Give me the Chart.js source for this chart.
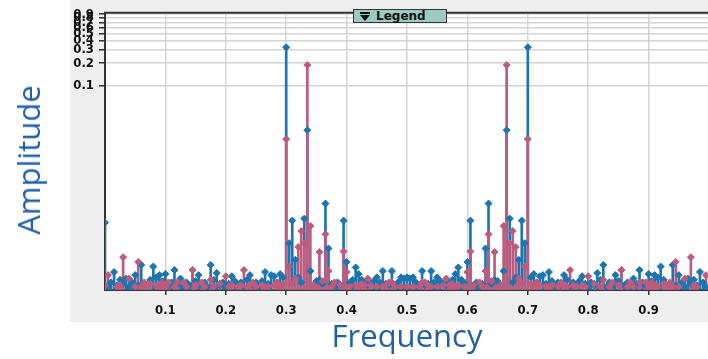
<!DOCTYPE html>
<html>
<head>
<meta charset="utf-8">
<script src="https://cdn.jsdelivr.net/npm/chart.js@4.4.1/dist/chart.umd.min.js"></script>
<style>
  html, body { margin: 0; padding: 0; width: 708px; height: 359px; overflow: hidden; background: #fff; }
  #panel { position: absolute; left: 70px; top: 0; width: 650px; height: 322px; background: #eeeeee; }
  #wrap { position: absolute; left: 0; top: 0; width: 714px; height: 359px; }
  #ytitle {
    position: absolute; left: 28px; top: 160px;
    transform: translate(-50%, -50%) rotate(-90deg);
    font: 31px 'Open Sans', sans-serif; color: #2160a8; white-space: nowrap;
  }
  #legendBox {
    position: absolute; left: 353px; top: 9px; width: 92px; height: 12px;
    background: #9ccbc4; border: 1px solid #333;
    font: bold 12px 'DejaVu Sans', sans-serif; line-height: 12px; color: #111;
  }
  #legendBox .ico { display: inline-block; position: relative; width: 10px; height: 9px; margin: 0 6px 0 6px; vertical-align: -1px; }
  #legendBox .ico::before { content: ''; position: absolute; left: 0; top: 0; width: 10px; height: 2px; background: #111; }
  #legendBox .ico::after {
    content: ''; position: absolute; left: 0; top: 3px;
    border-left: 5px solid transparent; border-right: 5px solid transparent; border-top: 6px solid #111;
  }
</style>
</head>
<body>
<div id="panel"></div>
<div id="wrap"><canvas id="spectrum" width="714" height="359"></canvas></div>
<div id="ytitle">Amplitude</div>
<div id="legendBox"><span class="ico"></span>Legend</div>
<script>
// FFT bins, frequency = k / binCount
const binCount = 200;

const blueAmp = [
  0.0015, 0.00021, 0.00024, 0.00033, 0.00022, 0.00026, 0.00023, 0.00027, 0.00021, 0.00024,
  0.0003, 0.00022, 0.00041, 0.00023, 0.00022, 0.00026, 0.00039, 0.00028, 0.0003, 0.00025,
  0.00031, 0.00022, 0.00024, 0.00035, 0.00023, 0.00027, 0.00021, 0.00024, 0.00022, 0.00035,
  0.00025, 0.0003, 0.00022, 0.00024, 0.00021, 0.00041, 0.00026, 0.00032, 0.00022, 0.00024,
  0.00021, 0.00023, 0.00029, 0.00025, 0.00022, 0.00024, 0.00021, 0.00026, 0.0003, 0.00022,
  0.00024, 0.00021, 0.00025, 0.00033, 0.00023, 0.0003, 0.00029, 0.00024, 0.00031, 0.00028,
  0.326, 0.0008, 0.0016, 0.00048, 0.00028, 0.00024, 0.0017, 0.0256, 0.00034, 0.00022,
  0.00025, 0.00026, 0.00023, 0.0027, 0.00068, 0.00023, 0.00021, 0.00024, 0.00022, 0.0016,
  0.00045, 0.00024, 0.00026, 0.00038, 0.00031, 0.00026, 0.00024, 0.00022, 0.00023, 0.00025,
  0.00028, 0.00024, 0.00034, 0.00023, 0.00022, 0.00034, 0.00021, 0.00024, 0.00028, 0.00027,
  0.00028, 0.00027, 0.00028, 0.00024, 0.00021, 0.00034, 0.00022, 0.00023, 0.00034, 0.00024,
  0.00028, 0.00025, 0.00023, 0.00022, 0.00024, 0.00026, 0.00031, 0.00038, 0.00026, 0.00024,
  0.00045, 0.0016, 0.00022, 0.00024, 0.00021, 0.00023, 0.00068, 0.0027, 0.00023, 0.00026,
  0.00025, 0.00022, 0.00034, 0.0256, 0.0017, 0.00024, 0.00028, 0.00048, 0.0016, 0.0008,
  0.326, 0.00028, 0.00031, 0.00024, 0.00029, 0.0003, 0.00023, 0.00033, 0.00025, 0.00021,
  0.00024, 0.00022, 0.0003, 0.00026, 0.00021, 0.00024, 0.00022, 0.00025, 0.00029, 0.00023,
  0.00021, 0.00024, 0.00022, 0.00032, 0.00026, 0.00041, 0.00021, 0.00024, 0.00022, 0.0003,
  0.00025, 0.00035, 0.00022, 0.00024, 0.00021, 0.00027, 0.00023, 0.00035, 0.00024, 0.00022,
  0.00031, 0.00025, 0.0003, 0.00028, 0.00039, 0.00026, 0.00022, 0.00023, 0.00041, 0.00022,
  0.0003, 0.00024, 0.00021, 0.00027, 0.00023, 0.00026, 0.00022, 0.00033, 0.00024, 0.00021
];

// null = below the visible floor of the axis
const pinkAmp = [
  0.00022, 0.0003, null, null, 0.00021, 0.00022, 0.00052, null, 0.00027, null,
  0.00021, 0.00045, 0.00021, 0.00024, 0.00022, 0.00023, null, 0.00021, 0.00022, 0.00024,
  0.00021, 0.00024, null, 0.00021, 0.00024, null, 0.00024, 0.00021, null, 0.00035,
  0.00022, null, 0.00024, 0.00021, null, 0.00026, 0.00021, null, 0.00023, null,
  0.00029, 0.00021, 0.00022, null, 0.00021, 0.00022, 0.00035, 0.00021, 0.00022, 0.00024,
  0.00021, null, 0.00022, 0.00021, 0.00021, null, 0.00022, 0.00024, 0.00021, 0.00023,
  0.0195, 0.00039, 0.00023, 0.00027, 0.00071, 0.00116, 0.0008, 0.189, 0.00135, 0.00022,
  0.00021, 0.00061, 0.00025, 0.00105, 0.00034, 0.00021, 0.00024, null, 0.00022, 0.00062,
  0.00033, 0.00021, null, 0.00022, 0.00021, 0.00023, 0.00022, 0.00027, 0.00022, null,
  0.00021, null, 0.00021, 0.00022, 0.00024, 0.00024, 0.00021, null, 0.00021, null,
  0.00021, null, 0.00021, null, 0.00021, 0.00024, 0.00024, 0.00022, 0.00021, null,
  0.00021, null, 0.00022, 0.00027, 0.00022, 0.00023, 0.00021, 0.00022, null, 0.00021,
  0.00033, 0.00062, 0.00022, null, 0.00024, 0.00021, 0.00034, 0.00105, 0.00025, 0.00061,
  0.00021, 0.00022, 0.00135, 0.189, 0.0008, 0.00116, 0.00071, 0.00027, 0.00023, 0.00039,
  0.0195, 0.00023, 0.00021, 0.00024, 0.00022, null, 0.00021, 0.00021, 0.00022, null,
  0.00021, 0.00024, 0.00022, 0.00021, 0.00035, 0.00022, 0.00021, null, 0.00022, 0.00021,
  0.00029, null, 0.00023, null, 0.00021, 0.00026, null, 0.00021, 0.00024, null,
  0.00022, 0.00035, null, 0.00021, 0.00024, 0.00021, null, 0.00024, null, 0.00024,
  0.00021, 0.00024, 0.00022, 0.00021, null, 0.00023, 0.00022, 0.00024, 0.00021, 0.00045,
  0.00021, null, 0.00027, null, 0.00052, 0.00022, 0.00021, null, null, 0.0003
];

const xTicks = [0.1, 0.2, 0.3, 0.4, 0.5, 0.6, 0.7, 0.8, 0.9];
const yTicks = [0.1, 0.2, 0.3, 0.4, 0.5, 0.6, 0.7, 0.8, 0.9];

const freqs = blueAmp.map((_, k) => k / binCount);
const toPoints = amps => amps.map((a, k) => ({ x: freqs[k], y: a }));

const BLUE = '#1a75b0';
const PINK = '#c05a7c';
const GRID = '#d4d4d4';
const AXIS = '#333333';
const tickFont = { family: 'DejaVu Sans Condensed', weight: 'bold', size: 13 };

// white plot area + dark top edge
const plotFrame = {
  id: 'plotFrame',
  beforeDraw(chart) {
    const { ctx, chartArea: a } = chart;
    ctx.save();
    ctx.fillStyle = '#ffffff';
    ctx.fillRect(a.left, a.top, a.right - a.left, a.bottom - a.top);
    ctx.restore();
  },
  afterDraw(chart) {
    const { ctx, chartArea: a } = chart;
    ctx.save();
    ctx.strokeStyle = AXIS;
    ctx.lineWidth = 2;
    ctx.beginPath();
    ctx.moveTo(a.left - 1, a.top);
    ctx.lineTo(a.right, a.top);
    ctx.stroke();
    ctx.restore();
  }
};

const stemStyle = color => ({
  type: 'bar',
  backgroundColor: color,
  borderWidth: 0,
  barThickness: 2,
  grouped: false
});

const markerStyle = color => ({
  type: 'scatter',
  pointStyle: 'rectRot',
  pointRadius: 3.5,
  pointBackgroundColor: color,
  pointBorderColor: color,
  pointBorderWidth: 1
});

new Chart(document.getElementById('spectrum').getContext('2d'), {
  type: 'bar',
  data: {
    datasets: [
      { ...stemStyle(BLUE), data: toPoints(blueAmp), order: 3 },
      { ...stemStyle(PINK), data: toPoints(pinkAmp), order: 2 },
      { ...markerStyle(BLUE), data: toPoints(blueAmp), order: 1 },
      { ...markerStyle(PINK), data: toPoints(pinkAmp), order: 0 }
    ]
  },
  options: {
    responsive: false,
    animation: false,
    layout: { padding: { top: 9, left: 0, right: 0, bottom: 0 } },
    plugins: { legend: { display: false }, tooltip: { enabled: false } },
    scales: {
      x: {
        type: 'linear',
        min: 0,
        max: 1,
        offset: false,
        afterBuildTicks: s => { s.ticks = xTicks.map(v => ({ value: v })); },
        afterFit: s => { s.height = 69; },
        ticks: { callback: v => v.toFixed(1), color: '#111', font: tickFont, padding: 8, maxRotation: 0, autoSkip: false },
        grid: { offset: false, color: GRID, lineWidth: 1.5, tickColor: AXIS, tickLength: 5, tickWidth: 1.5 },
        border: { color: AXIS, width: 2 },
        title: {
          display: true,
          text: 'Frequency',
          color: '#2160a8',
          font: { family: 'Open Sans', size: 31 },
          padding: { top: 0, bottom: 2 }
        }
      },
      y: {
        type: 'logarithmic',
        min: 0.00019,
        max: 0.94,
        afterBuildTicks: s => { s.ticks = yTicks.map(v => ({ value: v })); },
        afterFit: s => { s.width = 105; },
        ticks: { callback: v => v.toFixed(1), color: '#111', font: tickFont, padding: 5, autoSkip: false },
        grid: { color: GRID, lineWidth: 1.5, tickColor: AXIS, tickLength: 6, tickWidth: 1.5 },
        border: { color: AXIS, width: 2 }
      }
    }
  },
  plugins: [plotFrame]
});
</script>
</body>
</html>
